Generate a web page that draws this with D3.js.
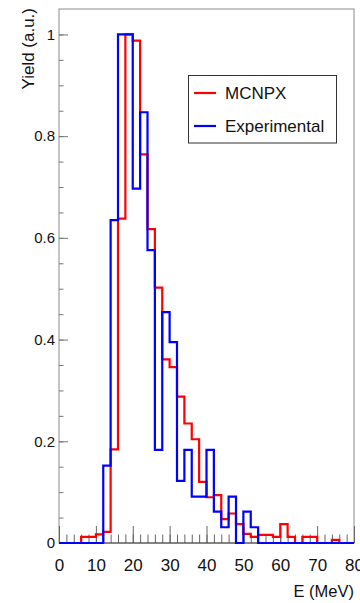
<!DOCTYPE html>
<html>
<head>
<meta charset="utf-8">
<script src="https://cdn.jsdelivr.net/npm/d3@7"></script>
<style>
  body { margin: 0; background: #fff; }
  svg { display: block; font-family: "Liberation Sans", Arial, Helvetica, sans-serif; }
</style>
</head>
<body>
<svg id="chart" width="360" height="603"></svg>
<script>
// bin low edges (MeV), 2 MeV wide
var binLow = [0, 2, 4, 6, 8, 10, 12, 14, 16, 18, 20, 22, 24, 26, 28, 30, 32, 34, 36, 38,
              40, 42, 44, 46, 48, 50, 52, 54, 56, 58, 60, 62, 64, 66, 68, 70, 72, 74, 76, 78];
var binWidth = 2;

var mcnpx = [0, 0, 0, 0.012, 0.012, 0.017, 0.022, 0.184, 0.638, 1.0,
             0.988, 0.764, 0.617, 0.502, 0.361, 0.346, 0.288, 0.235, 0.204, 0.12,
             0.09, 0.094, 0.047, 0.058, 0.037, 0.018, 0.012, 0.016, 0.016, 0.012,
             0.037, 0.012, 0, 0.012, 0.012, 0, 0, 0.006, 0, 0];

var experimental = [0, 0, 0, 0, 0, 0, 0.152, 0.635, 1.0, 1.0,
                    0.697, 0.847, 0.576, 0.183, 0.454, 0.395, 0.122, 0.183, 0.091, 0.091,
                    0.183, 0.0615, 0.031, 0.091, 0, 0.0615, 0.031, 0, 0, 0,
                    0, 0, 0, 0, 0, 0, 0, 0, 0, 0];

var xMajor = [0, 10, 20, 30, 40, 50, 60, 70, 80];
var yMajor = [0, 0.2, 0.4, 0.6, 0.8, 1];
var yLabels = ["0", "0.2", "0.4", "0.6", "0.8", "1"];

var series = [
  { name: "MCNPX", color: "#ff0000", values: mcnpx },
  { name: "Experimental", color: "#0000ff", values: experimental }
];

var svg = d3.select("#chart"),
    padL = 59, padR = 354, padT = 9, padB = 543;

var x = d3.scaleLinear().domain([0, 80]).range([padL, padR]);
var y = d3.scaleLinear().domain([0, 1.05]).range([padB, padT]);

// frame
svg.append("rect")
  .attr("x", padL).attr("y", padT)
  .attr("width", padR - padL).attr("height", padB - padT)
  .attr("fill", "none").attr("stroke", "#8c8c8c").attr("stroke-width", 1);

// y axis, ticks pointing inward
var yMinor = d3.range(0, 1.0001, 0.05);
svg.append("g")
  .attr("transform", "translate(" + padL + ",0)")
  .call(d3.axisLeft(y).tickValues(yMinor).tickSize(-4.5).tickFormat(""))
  .call(g => g.select(".domain").remove())
  .call(g => g.selectAll("line").attr("stroke", "#777"));

svg.append("g")
  .attr("transform", "translate(" + padL + ",0)")
  .call(d3.axisLeft(y).tickValues(yMajor).tickSize(-9).tickPadding(4)
        .tickFormat((d, i) => yLabels[i]))
  .call(g => g.select(".domain").remove())
  .call(g => g.selectAll("line").attr("stroke", "#777"))
  .call(g => g.selectAll("text").attr("font-size", 15).attr("fill", "#111")
              .attr("font-family", null));

// x axis, ticks pointing up
svg.append("g")
  .attr("transform", "translate(0," + padB + ")")
  .call(d3.axisBottom(x).tickValues(binLow.concat([80])).tickSize(-8.5).tickFormat(""))
  .call(g => g.select(".domain").remove())
  .call(g => g.selectAll("line").attr("stroke", "#666"));

svg.append("g")
  .attr("transform", "translate(0," + padB + ")")
  .call(d3.axisBottom(x).tickValues(xMajor).tickSize(-17).tickPadding(16))
  .call(g => g.select(".domain").remove())
  .call(g => g.selectAll("line").attr("stroke", "#666"))
  .call(g => g.selectAll("text").attr("font-size", 17).attr("fill", "#111")
              .attr("font-family", null));

svg.append("line")
  .attr("x1", padL).attr("x2", padR)
  .attr("y1", padB).attr("y2", padB)
  .attr("stroke", "#444").attr("stroke-width", 1);

// histograms as step outlines
var step = d3.line()
  .x(d => x(d[0]))
  .y(d => y(d[1]))
  .curve(d3.curveStepAfter);

series.forEach(function(s) {
  var pts = binLow.map((b, i) => [b, s.values[i]]);
  pts.push([binLow[binLow.length - 1] + binWidth, s.values[s.values.length - 1]]);
  svg.append("path")
    .datum(pts)
    .attr("d", step)
    .attr("fill", "none")
    .attr("stroke", s.color)
    .attr("stroke-width", 2.2);
});

// axis titles
svg.append("text")
  .attr("transform", "translate(34,8) rotate(-90)")
  .attr("text-anchor", "end")
  .attr("font-size", 17)
  .attr("fill", "#111")
  .text("Yield (a.u.)");

svg.append("text")
  .attr("x", padR).attr("y", 597)
  .attr("text-anchor", "end")
  .attr("font-size", 16.5)
  .attr("fill", "#111")
  .text("E (MeV)");

// legend
var legend = svg.append("g");
legend.append("rect")
  .attr("x", 188.5).attr("y", 75.5)
  .attr("width", 148).attr("height", 67.5)
  .attr("fill", "#fff").attr("stroke", "#333").attr("stroke-width", 1);

series.forEach(function(s, i) {
  var ly = 93 + i * 33;
  legend.append("line")
    .attr("x1", 194).attr("x2", 216)
    .attr("y1", ly).attr("y2", ly)
    .attr("stroke", s.color).attr("stroke-width", 2.2);
  legend.append("text")
    .attr("x", 225).attr("y", ly + 6)
    .attr("font-size", 17)
    .attr("fill", "#111")
    .text(s.name);
});
</script>
</body>
</html>
